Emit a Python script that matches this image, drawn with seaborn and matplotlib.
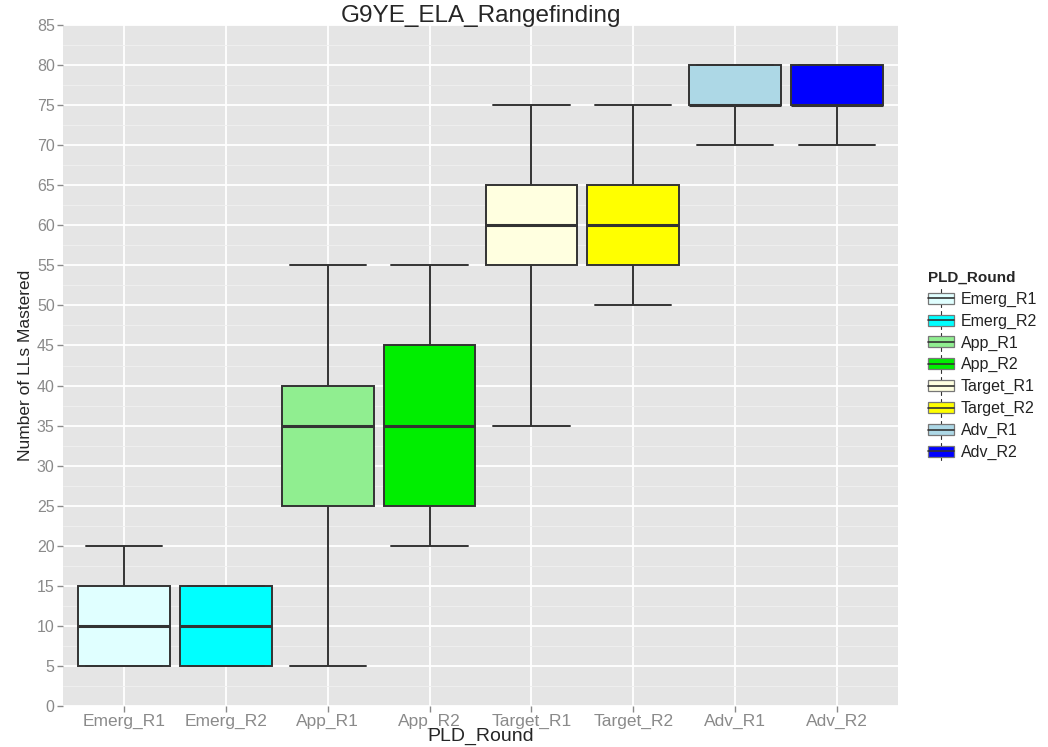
import numpy as np
import pandas as pd
import matplotlib
matplotlib.use("Agg")
import matplotlib.pyplot as plt
from matplotlib.patches import Patch, Rectangle
from matplotlib.lines import Line2D
from matplotlib.legend_handler import HandlerBase
from matplotlib.ticker import MultipleLocator
import seaborn as sns

# five-number summaries: min, q1, median, q3, max
categories = ['Emerg_R1', 'Emerg_R2', 'App_R1', 'App_R2',
              'Target_R1', 'Target_R2', 'Adv_R1', 'Adv_R2']
emerg_r1 = [5, 5, 10, 15, 20]
emerg_r2 = [5, 5, 10, 15, 15]
app_r1 = [5, 25, 35, 40, 55]
app_r2 = [20, 25, 35, 45, 55]
target_r1 = [35, 55, 60, 65, 75]
target_r2 = [50, 55, 60, 65, 75]
adv_r1 = [70, 75, 75, 80, 80]
adv_r2 = [70, 75, 75, 80, 80]
fill_colors = ['#E0FFFF', '#00FFFF', '#90EE90', '#00EE00',
               '#FFFFE0', '#FFFF00', '#ADD8E6', '#0000FF']

EDGE = '#333333'
TICK_GREY = '#8A8A8A'

values = [emerg_r1, emerg_r2, app_r1, app_r2, target_r1, target_r2, adv_r1, adv_r2]
df = pd.DataFrame({
    'PLD_Round': np.repeat(categories, [len(v) for v in values]),
    'LLs': np.concatenate(values),
})
palette = dict(zip(categories, fill_colors))

sns.set_theme(style='darkgrid', rc={
    'axes.facecolor': '#E5E5E5',
    'grid.color': 'white',
    'grid.linewidth': 1.3,
})
plt.rcParams['font.family'] = ['Liberation Sans', 'DejaVu Sans']


class BoxKeyHandler(HandlerBase):
    # ggplot-style legend key: small box with whisker and median
    def create_artists(self, legend, orig_handle, xdescent, ydescent,
                       width, height, fontsize, trans):
        x0, y0 = -xdescent, -ydescent
        cx = x0 + width / 2
        whisker = Line2D([cx, cx], [y0 - height * 0.15, y0 + height * 1.15],
                         color=EDGE, lw=0.8, transform=trans)
        box = Rectangle((x0, y0 + height * 0.1), width, height * 0.8,
                        facecolor=orig_handle.get_facecolor(),
                        edgecolor='#777777', lw=0.9, transform=trans)
        median = Line2D([x0, x0 + width], [y0 + height / 2] * 2,
                        color=EDGE, lw=1.2, transform=trans)
        return [whisker, box, median]


fig = plt.figure(figsize=(10.48, 7.47), dpi=100)
ax = fig.add_axes([0.0601, 0.0549, 0.7968, 0.9116])

sns.boxplot(data=df, x='PLD_Round', y='LLs', hue='PLD_Round',
            order=categories, hue_order=categories, palette=palette,
            saturation=1, width=0.9, whis=(0, 100), linecolor=EDGE,
            linewidth=1.4, legend=False, capwidths=0.75,
            medianprops={'linewidth': 2.2, 'color': EDGE}, ax=ax)

ax.set_xlim(-0.6, len(categories) - 0.4)
ax.set_ylim(0, 85)
ax.yaxis.set_major_locator(MultipleLocator(5))
ax.yaxis.set_minor_locator(MultipleLocator(2.5))
ax.xaxis.grid(True)
ax.yaxis.grid(True, which='major')
ax.yaxis.grid(True, which='minor', color='#F0F0F0', linewidth=0.6)
ax.set_axisbelow(True)
for s in ax.spines.values():
    s.set_visible(False)

ax.tick_params(axis='both', which='major', bottom=True, left=True,
               length=4, width=1, color=TICK_GREY, labelcolor=TICK_GREY,
               labelsize=11.5, pad=2)
ax.tick_params(axis='x', labelsize=12.5)
ax.tick_params(axis='y', which='minor', left=False)

ax.set_title('G9YE_ELA_Rangefinding', fontsize=17.5, pad=2)
ax.set_xlabel('PLD_Round', fontsize=14, labelpad=-1)
ax.set_ylabel('Number of LLs Mastered', fontsize=12.5, labelpad=3)

handles = [Patch(facecolor=c, label=l) for l, c in zip(categories, fill_colors)]
leg = fig.legend(handles=handles, title='PLD_Round', loc='upper left',
                 bbox_to_anchor=(0.879, 0.646), frameon=False, fontsize=11.5,
                 title_fontproperties={'weight': 'bold', 'size': 11},
                 handler_map={Patch: BoxKeyHandler()},
                 handlelength=1.65, handleheight=0.95, labelspacing=0.4,
                 handletextpad=0.45, alignment='left', borderaxespad=0)
for t in leg.get_texts():
    t.set_color('#222222')

fig.savefig('out.png', dpi=100)
